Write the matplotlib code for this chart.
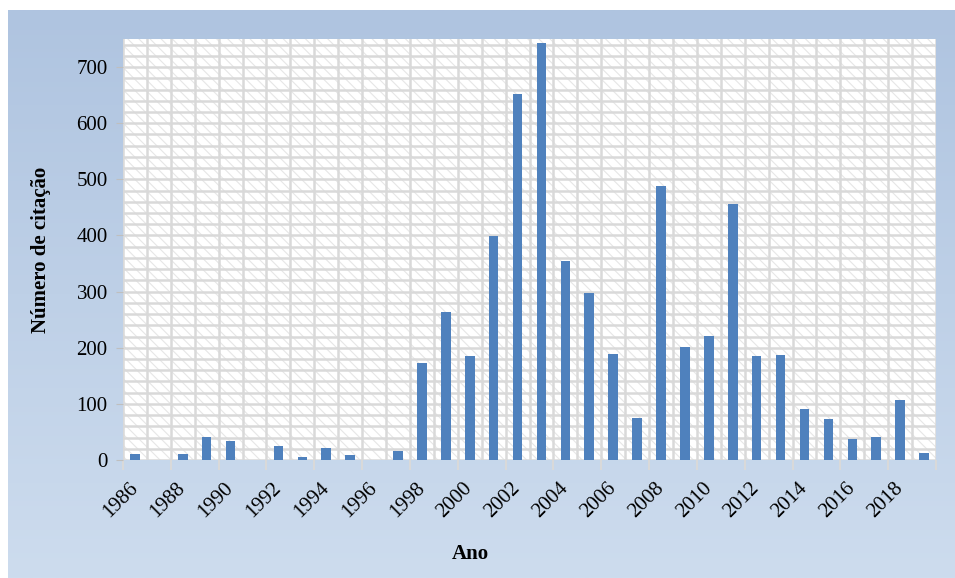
import numpy as np
import matplotlib.pyplot as plt
from matplotlib.patches import Rectangle
from matplotlib.colors import LinearSegmentedColormap

# citations per year
anos = list(range(1986, 2020))
citacoes = [10, 0, 10, 41, 34, 0, 25, 5, 21, 9, 0, 16, 173, 264, 185, 399,
            652, 743, 355, 297, 189, 75, 488, 201, 221, 456, 185, 187, 91,
            73, 37, 41, 107, 12]
rotulos = [str(a) if (a - 1986) % 2 == 0 else "" for a in anos]

plt.rcParams["font.family"] = ["Liberation Serif", "DejaVu Serif"]
plt.rcParams["hatch.linewidth"] = 0.8

fig = plt.figure(figsize=(9.55, 5.78), dpi=100)
fig.patch.set_facecolor("white")

# blue gradient background behind the chart
bg = fig.add_axes([8 / 955, 0, 1 - 8 / 955, 568 / 578])
grad = LinearSegmentedColormap.from_list("bg", ["#afc4e0", "#cddcee"])
bg.imshow(np.linspace(0, 1, 256).reshape(-1, 1), aspect="auto", cmap=grad,
          extent=[0, 1, 0, 1])
bg.set_axis_off()

ax = fig.add_axes([123 / 955, 118 / 578, (936 - 123) / 955, (460 - 39) / 578])
ax.set_facecolor("white")
x = np.arange(len(anos))
ax.set_xlim(-0.5, len(anos) - 0.5)
ax.set_ylim(0, 750)

# hatched fill of the plot area
ax.add_patch(Rectangle((-0.5, 0), len(anos), 750, facecolor="white",
                       edgecolor="#e6e6e6", hatch="\\\\\\", lw=0, zorder=0))

# grid: one column per year, one row per 20 citations
for xv in np.arange(-0.5, len(anos), 1):
    ax.axvline(xv, color="#d9d9d9", lw=1.8, zorder=1)
for yv in range(0, 760, 20):
    ax.axhline(yv, color="#d9d9d9", lw=1.8, zorder=1)

ax.bar(x, citacoes, width=0.4, color="#4f81bd", zorder=3)

for s in ax.spines.values():
    s.set_visible(False)

ax.set_yticks(range(0, 800, 100))
ax.tick_params(axis="y", length=5, color="#bfbfbf", labelsize=15, pad=6)

ax.set_xticks(x)
ax.set_xticklabels(rotulos, rotation=45, ha="right", va="center",
                   rotation_mode="anchor", fontsize=15)
ax.set_xticks(np.arange(-0.5, len(anos), 2), minor=True)
ax.tick_params(axis="x", which="major", length=0, pad=18.5)
ax.tick_params(axis="x", which="minor", length=7, color="#d9d9d9", width=1.5)

ax.set_ylabel("Número de citação", fontsize=15, fontweight="bold", labelpad=18)
ax.set_xlabel("Ano", fontsize=15, fontweight="bold")
ax.xaxis.set_label_coords(0.427, -0.20)

fig.savefig("out.png", dpi=100)
